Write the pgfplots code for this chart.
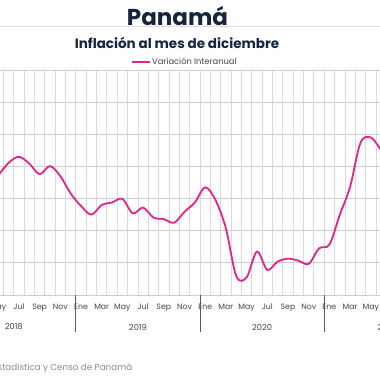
\documentclass[border=0pt]{standalone}
\usepackage{pgfplots}
\pgfplotsset{compat=1.18}
\usepackage{fontspec}
\setmainfont{Poppins}
\definecolor{linepink}{RGB}{228,34,140}
\definecolor{navy}{RGB}{22,36,64}
\definecolor{txtgray}{RGB}{70,70,70}
\definecolor{srcgray}{RGB}{140,140,140}
\definecolor{gridv}{RGB}{218,218,218}
\definecolor{gridh}{RGB}{205,205,205}
\definecolor{zerogray}{RGB}{160,160,160}
\definecolor{sepgray}{RGB}{90,90,90}
\begin{document}
\begin{tikzpicture}
\begin{scope}
\clip (0pt,0pt) rectangle (380pt,380pt);
\fill[white] (0pt,0pt) rectangle (380pt,380pt);
\begin{axis}[
  at={(0pt,85pt)}, anchor=south west,
  scale only axis, width=380pt, height=225pt,
  xmin=-7.826, xmax=28.889, ymin=-3, ymax=4,
  axis line style={draw=none},
  clip=false,
  xtick={-6,-4,...,28},
  xticklabels={Jul,Sep,Nov,Ene,Mar,May,Jul,Sep,Nov,Ene,Mar,May,Jul,Sep,Nov,Ene,Mar,May},
  xticklabel style={font=\fontsize{7.8}{9}\selectfont, text=txtgray, anchor=base, yshift=-14pt},
  major tick length=0pt, minor tick length=0pt,
  minor xtick={-8.5,-7.5,...,29.5},
  xminorgrids, minor x grid style={gridv, line width=0.8pt},
  ytick={-3,-2,...,4}, yticklabels={},
  ymajorgrids, y grid style={gridh, line width=0.8pt},
  extra y ticks={0}, extra y tick labels={},
  extra y tick style={grid style={zerogray, line width=1.6pt}},
]
\addplot[linepink, line width=1.8pt, smooth, tension=0.55] coordinates {
(-8,0.72) (-7,1.11) (-6,1.30) (-5,1.09) (-4,0.76) (-3,1.01) (-2,0.70) (-1,0.16)
(0,-0.23) (1,-0.50) (2,-0.20) (3,-0.12) (4,-0.01) (5,-0.46) (6,-0.28) (7,-0.59)
(8,-0.64) (9,-0.75) (10,-0.41) (11,-0.12)
(12,0.35) (13,-0.05) (14,-0.93) (15,-2.41) (16,-2.45) (17,-1.65) (18,-2.22) (19,-1.96)
(20,-1.87) (21,-1.93) (22,-2.03) (23,-1.55)
(24,-1.43) (25,-0.51) (26,0.37) (27,1.73) (28,1.90) (29,1.50)
};
\node[font=\fontsize{7.8}{9}\selectfont, text=txtgray, anchor=base] at (axis cs:-8,-3) [yshift=-14pt] {May};
\draw[sepgray, line width=0.9pt] (axis cs:-0.5,-3) -- ++(0pt,-37pt);
\draw[sepgray, line width=0.9pt] (axis cs:11.5,-3) -- ++(0pt,-37pt);
\draw[sepgray, line width=0.9pt] (axis cs:23.5,-3) -- ++(0pt,-37pt);
\node[font=\fontsize{8.3}{10}\selectfont, text=txtgray] at (axis cs:-6.5,-3) [yshift=-32pt] {2018};
\node[font=\fontsize{8.3}{10}\selectfont, text=txtgray] at (axis cs:5.5,-3) [yshift=-32pt] {2019};
\node[font=\fontsize{8.3}{10}\selectfont, text=txtgray] at (axis cs:17.5,-3) [yshift=-32pt] {2020};
\node[font=\fontsize{8.3}{10}\selectfont, text=txtgray] at (axis cs:29.5,-3) [yshift=-32pt] {2021};
\end{axis}
\draw[gray!25, line width=0.6pt] (0pt,353.3pt) -- (380pt,353.3pt);
\node[font=\fontsize{23}{26}\selectfont\bfseries, text=navy] at (177.5pt,364pt) {Panamá};
\node[font=\fontsize{13.5}{16}\selectfont\bfseries, text=navy] at (177pt,337pt) {Inflación al mes de diciembre};
\draw[linepink, line width=1.9pt] (132pt,318pt) -- (150pt,318pt);
\node[font=\fontsize{8.3}{10}\selectfont, text=txtgray, anchor=west, inner sep=1pt] at (151pt,318.5pt) {Variación Interanual};
\node[font=\fontsize{8.8}{10}\selectfont, text=srcgray, anchor=east, inner sep=0pt] at (132.5pt,12pt) {Fuente: Instituto Nacional de Estadística y Censo de Panamá};
\end{scope}
\pgfresetboundingbox
\path[use as bounding box] (0pt,0pt) rectangle (380pt,380pt);
\end{tikzpicture}
\end{document}
